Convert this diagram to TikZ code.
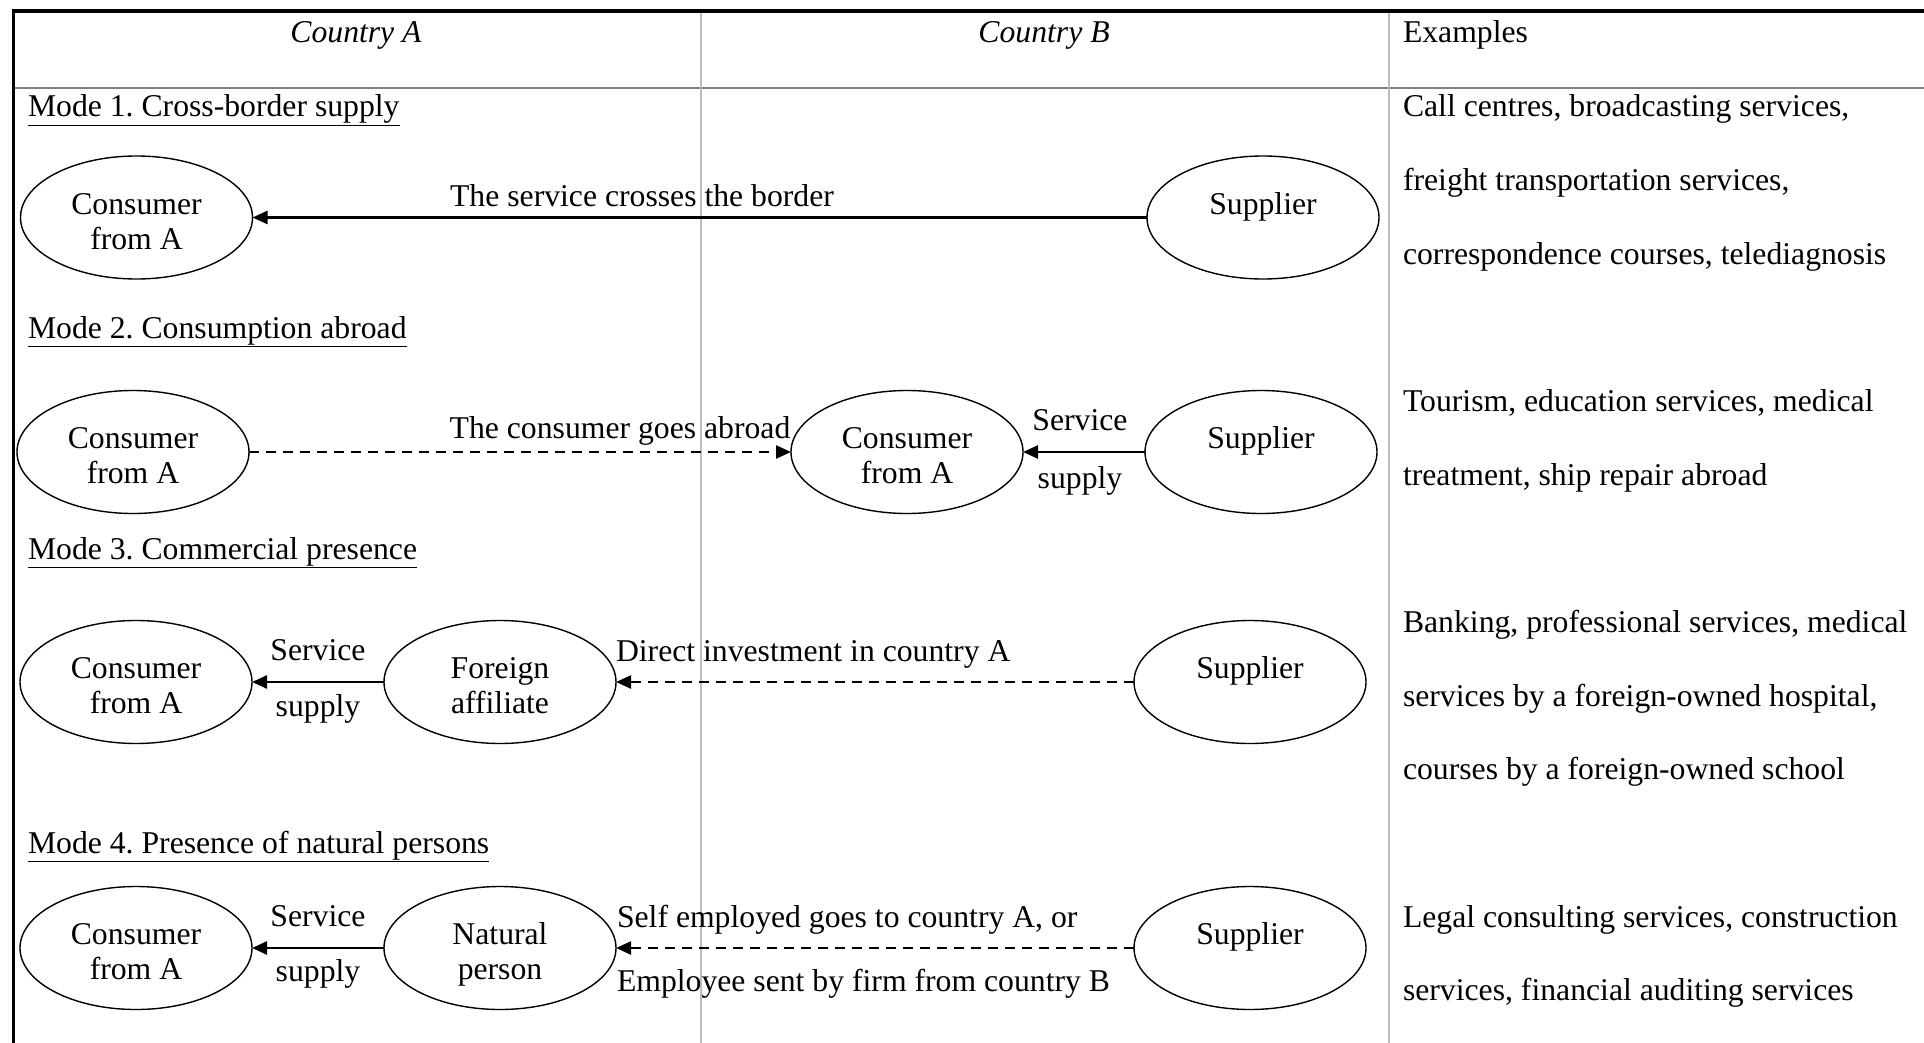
\documentclass[tikz,border=0pt]{standalone}
\usepackage{fontspec}
\setmainfont{Liberation Serif}
\usetikzlibrary{shapes.geometric,arrows.meta}
\frenchspacing

% first-line strut so every two-line ellipse label sits the same way
\newcommand\firstline[1]{\rule{0pt}{28pt}\smash{#1}}
\newcommand\lastline[1]{\smash{#1}}

\begin{document}
\begin{tikzpicture}[x=1pt,y=-1pt,
  every node/.style={font=\fontsize{31.7}{35}\selectfont, inner sep=0pt, outer sep=0pt, text=black},
  party/.style={ellipse, draw, line width=1.4pt, minimum width=232pt, minimum height=123pt, align=center},
  txt/.style={anchor=base},
  txtw/.style={anchor=base west},
  frameline/.style={line width=3.3pt, black},
  rowrule/.style={line width=1.3pt, color=black!50},
  colrule/.style={line width=1.3pt, color=black!25},
  flow/.style={line width=2.4pt, -{Triangle[length=15pt,width=13pt]}},
  move/.style={flow, dash pattern=on 10pt off 7pt}
]
\useasboundingbox (0,0) rectangle (1924,1043);

% table frame and rules
\coordinate (tl) at (11.6,11);
\coordinate (tr) at (1924,11);
\coordinate (lt) at (13.3,9.4);
\coordinate (lb) at (13.3,1043);
\coordinate (hl) at (15,88);
\coordinate (hr) at (1924,88);
\coordinate (v1t) at (701,12.6);
\coordinate (v1b) at (701,1043);
\coordinate (v2t) at (1389,12.6);
\coordinate (v2b) at (1389,1043);
\draw[rowrule] (hl) -- (hr);
\draw[colrule] (v1t) -- (v1b);
\draw[colrule] (v2t) -- (v2b);
\draw[frameline] (tl) -- (tr);
\draw[frameline] (lt) -- (lb);

% header row
\node[txt] (hA) at (356,43) {\itshape Country A};
\node[txt] (hB) at (1044,43) {\itshape Country B};
\node[txtw] (hE) at (1403,43) {Examples};

% mode titles
\node[txtw] (m1) at (28,117) {\underline{Mode 1. Cross-border supply}};
\node[txtw] (m2) at (28,338) {\underline{Mode 2. Consumption abroad}};
\node[txtw] (m3) at (28,559) {\underline{Mode 3. Commercial presence}};
\node[txtw] (m4) at (28,853) {\underline{Mode 4. Presence of natural persons}};

% examples column
\node[txtw] (e1a) at (1403,117) {Call centres, broadcasting services,};
\node[txtw] (e1b) at (1403,190.6) {freight transportation services,};
\node[txtw] (e1c) at (1403,264) {correspondence courses, telediagnosis};
\node[txtw] (e2a) at (1403,411.4) {Tourism, education services, medical};
\node[txtw] (e2b) at (1403,485) {treatment, ship repair abroad};
\node[txtw] (e3a) at (1403,632) {Banking, professional services, medical};
\node[txtw] (e3b) at (1403,706) {services by a foreign-owned hospital,};
\node[txtw] (e3c) at (1403,779.4) {courses by a foreign-owned school};
\node[txtw] (e4a) at (1403,927) {Legal consulting services, construction};
\node[txtw] (e4b) at (1403,1000) {services, financial auditing services};

% mode 1
\node[party] (c1) at (136.5,217.5) {\firstline{Consumer}\\\lastline{from A}};
\node[party] (s1) at (1263,217.5) {\firstline{Supplier}\\\mbox{}};
\draw[flow] (s1) -- (c1);
\node[txt] (l1) at (642,207) {The service crosses the border};

% mode 2
\node[party] (c2a) at (133,452) {\firstline{Consumer}\\\lastline{from A}};
\node[party] (c2b) at (907,452) {\firstline{Consumer}\\\lastline{from A}};
\node[party] (s2) at (1261,452) {\firstline{Supplier}\\\mbox{}};
\draw[move] (c2a) -- (c2b);
\draw[flow] (s2) -- (c2b);
\node[txt] (l2) at (620,438) {The consumer goes abroad};
\node[txt] (sv2) at (1080,430) {Service};
\node[txt] (sp2) at (1080,488) {supply};

% mode 3
\node[party] (c3) at (136,682) {\firstline{Consumer}\\\lastline{from A}};
\node[party] (f3) at (500,682) {\firstline{Foreign}\\\lastline{affiliate}};
\node[party] (s3) at (1250,682) {\firstline{Supplier}\\\mbox{}};
\draw[flow] (f3) -- (c3);
\draw[move] (s3) -- (f3);
\node[txt] (sv3) at (318,660) {Service};
\node[txt] (sp3) at (318,716) {supply};
\node[txtw] (l3) at (616,661) {Direct investment in country A};

% mode 4
\node[party] (c4) at (136,948) {\firstline{Consumer}\\\lastline{from A}};
\node[party] (n4) at (500,948) {\firstline{Natural}\\\lastline{person}};
\node[party] (s4) at (1250,948) {\firstline{Supplier}\\\mbox{}};
\draw[flow] (n4) -- (c4);
\draw[move] (s4) -- (n4);
\node[txt] (sv4) at (318,926) {Service};
\node[txt] (sp4) at (318,981) {supply};
\node[txtw] (l4a) at (617,927) {Self employed goes to country A, or};
\node[txtw] (l4b) at (617,991) {Employee sent by firm from country B};
\end{tikzpicture}
\end{document}
